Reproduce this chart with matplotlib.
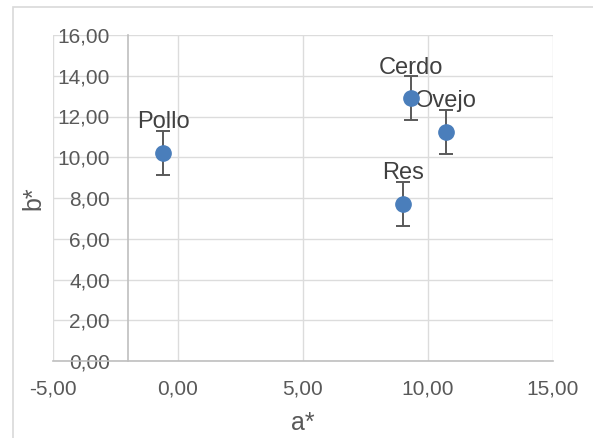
import matplotlib

matplotlib.use("Agg")
from matplotlib import pyplot as plt  # noqa: E402
from matplotlib.patches import Rectangle  # noqa: E402
from matplotlib.ticker import FuncFormatter  # noqa: E402

# data
labels = ["Pollo", "Cerdo", "Ovejo", "Res"]
a_star = [-0.6, 9.3, 10.7, 9.0]
b_star = [10.22, 12.89, 11.24, 7.71]
b_err = [1.08, 1.08, 1.08, 1.08]

x_ticks = [-5, 0, 5, 10, 15]
y_ticks = [0, 2, 4, 6, 8, 10, 12, 14, 16]

plt.rcParams["font.family"] = ["Liberation Sans", "DejaVu Sans"]

W, H = 593, 438
fig = plt.figure(figsize=(W / 100, H / 100), dpi=100)
ax = fig.add_axes([53 / W, 1 - 361 / H, 500 / W, 326 / H])

# chart frame
fig.patches.append(
    Rectangle((13 / W, -0.1), 1.2, 1 - 7 / H + 0.1, transform=fig.transFigure,
              fill=False, edgecolor="#d9d9d9", linewidth=1.2)
)

ax.errorbar(a_star, b_star, yerr=b_err, fmt="o", color="#4a7ebb",
            markersize=11, ecolor="#595959", elinewidth=1.4, capsize=5,
            capthick=1.4, zorder=3)

for lab, x, y in zip(labels, a_star, b_star):
    ax.annotate(lab, (x, y), xytext=(0, 22), textcoords="offset points",
                ha="center", va="center", fontsize=17, color="#404040")

ax.set_xlim(-5, 15)
ax.set_ylim(0, 16)
ax.set_xticks(x_ticks)
ax.set_yticks(y_ticks)
fmt = FuncFormatter(lambda v, p: f"{v:.2f}".replace(".", ","))
ax.xaxis.set_major_formatter(fmt)
ax.yaxis.set_major_formatter(fmt)

ax.grid(color="#dcdcdc", linewidth=1.0)
ax.set_axisbelow(True)
for s in ["top", "right"]:
    ax.spines[s].set_visible(False)
ax.spines["left"].set_position(("data", -2))
ax.spines["left"].set_color("#bfbfbf")
ax.spines["bottom"].set_color("#bfbfbf")
ax.spines["left"].set_linewidth(1.2)
ax.spines["bottom"].set_linewidth(1.2)
ax.tick_params(length=0, labelsize=15, colors="#595959")
ax.tick_params(axis="y", pad=13)
ax.tick_params(axis="x", pad=13)

ax.set_xlabel("a*", fontsize=18, color="#595959", labelpad=9)
ax.yaxis.set_label_coords(-8 / 500, 0.5)
ax.set_ylabel("b*", fontsize=18, color="#595959")

fig.savefig("out.png", dpi=100)
